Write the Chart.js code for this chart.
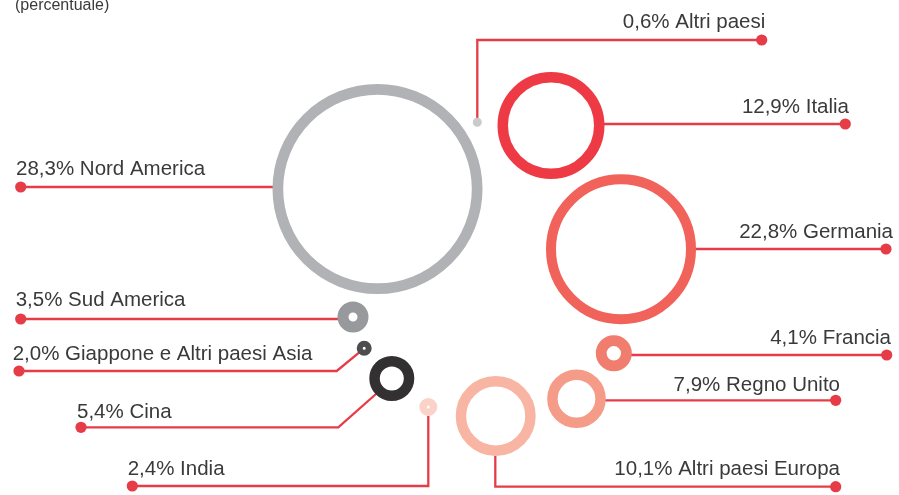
<!DOCTYPE html>
<html><head><meta charset="utf-8">
<script src="https://cdn.jsdelivr.net/npm/chart.js@4.4.1/dist/chart.umd.min.js"></script>
<style>html,body{margin:0;padding:0;background:#fff;overflow:hidden}#wrap{width:899px;height:495px}</style>
</head><body><div id="wrap"><canvas id="c" width="899" height="495"></canvas></div>
<script>
// ---- data ----
const chartTitle = '(percentuale)';
const categories = ['Altri paesi','Italia','Nord America','Germania','Sud America','Francia',
  'Giappone e Altri paesi Asia','Regno Unito','Cina','India','Altri paesi Europa'];
const shares = [0.6, 12.9, 28.3, 22.8, 3.5, 4.1, 2.0, 7.9, 5.4, 2.4, 10.1];

// ---- layout (in the hidden 0..899 x 0..495 layout scales) ----
const bubbleX = [477.3, 551, 377.5, 621, 353, 613.8, 364.2, 576.5, 391.8, 428.3, 495.7];
const bubbleY = [122.3, 125.5, 189, 249.3, 317, 353.3, 348.3, 398.8, 378.5, 407, 416];
const outerR  = [4.5, 53.5, 105, 75, 15.5, 18, 7.5, 29.3, 22.5, 9, 40];
const innerR  = [0, 43, 94.3, 65, 4.5, 7.2, 1.5, 18.8, 12, 1.5, 29.5];
const ringColors = ['#c9cacc','#ee3a45','#b1b2b5','#f0625a','#98999c','#f07d6d',
  '#4d4d4f','#f59c88','#323031','#fbd2c8','#f9b5a3'];
const connectorPaths = [
  [[477.3,118],[477.3,40],[761.7,40]],
  [[604,124],[845.3,124]],
  [[273,187],[20.7,187]],
  [[695,249],[886,249]],
  [[338,319],[20.7,319]],
  [[631,355],[886.7,355]],
  [[359.3,352.3],[336.7,371],[19,371]],
  [[605,400.3],[835.7,400.3]],
  [[376,394],[338.3,427.3],[81,427.3]],
  [[428.3,416],[428.3,486],[132.3,486]],
  [[495.3,456],[495.3,486.7],[835.7,486.7]]
];
const labelAnchors = [
  {x:765.3, y:28.3, align:'right'},
  {x:849, y:113.3, align:'right'},
  {x:16, y:175, align:'left'},
  {x:893, y:238, align:'right'},
  {x:15.7, y:305.7, align:'left'},
  {x:891, y:344, align:'right'},
  {x:12.7, y:360, align:'left'},
  {x:840, y:391, align:'right'},
  {x:77, y:417.7, align:'left'},
  {x:127.7, y:475, align:'left'},
  {x:840, y:475, align:'right'}
];
const lineColor = '#e63c47';
const textColor = '#3a3a3a';

function labelText(i){
  return shares[i].toFixed(1).replace('.', ',') + '% ' + categories[i];
}

const bubbleDataset = {
  type: 'bubble',
  order: 0,
  clip: false,
  data: categories.map((c,i)=>({x:bubbleX[i], y:bubbleY[i], r:(outerR[i]+innerR[i])/2})),
  backgroundColor: 'rgba(0,0,0,0)',
  borderColor: ringColors,
  borderWidth: categories.map((c,i)=>outerR[i]-innerR[i]),
  hoverBorderWidth: categories.map((c,i)=>outerR[i]-innerR[i])
};

const lineDatasets = connectorPaths.map((p,i)=>({
  type: 'line',
  order: 1,
  clip: false,
  label: categories[i],
  data: p.map(q=>({x:q[0], y:q[1]})),
  borderColor: lineColor,
  borderWidth: 2.3,
  tension: 0,
  fill: false,
  pointRadius: p.map((q,j)=> j===p.length-1 ? 5.6 : 0),
  pointBackgroundColor: lineColor,
  pointBorderWidth: 0,
  pointHoverRadius: p.map((q,j)=> j===p.length-1 ? 5.6 : 0)
}));

const labelPlugin = {
  id: 'labelPlugin',
  afterDatasetsDraw(chart){
    const {ctx} = chart;
    const xs = chart.scales.x, ys = chart.scales.y;
    ctx.save();
    ctx.fillStyle = textColor;
    ctx.textBaseline = 'alphabetic';
    ctx.font = '20.5px "Liberation Sans", Arial, sans-serif';
    categories.forEach((c,i)=>{
      const a = labelAnchors[i];
      ctx.textAlign = a.align;
      ctx.fillText(labelText(i), xs.getPixelForValue(a.x), ys.getPixelForValue(a.y));
    });
    ctx.font = '16px "Liberation Sans", Arial, sans-serif';
    ctx.textAlign = 'left';
    ctx.fillText(chartTitle, xs.getPixelForValue(15), ys.getPixelForValue(9.5));
    ctx.restore();
  }
};

new Chart(document.getElementById('c'), {
  type: 'bubble',
  data: { datasets: [bubbleDataset, ...lineDatasets] },
  options: {
    responsive: false,
    animation: false,
    events: [],
    layout: { padding: 0, autoPadding: false },
    plugins: { legend: {display:false}, tooltip: {enabled:false}, title:{display:false} },
    scales: {
      x: { type:'linear', min:0, max:899, display:false },
      y: { type:'linear', min:0, max:495, reverse:true, display:false }
    }
  },
  plugins: [labelPlugin]
});
</script>
</body></html>
